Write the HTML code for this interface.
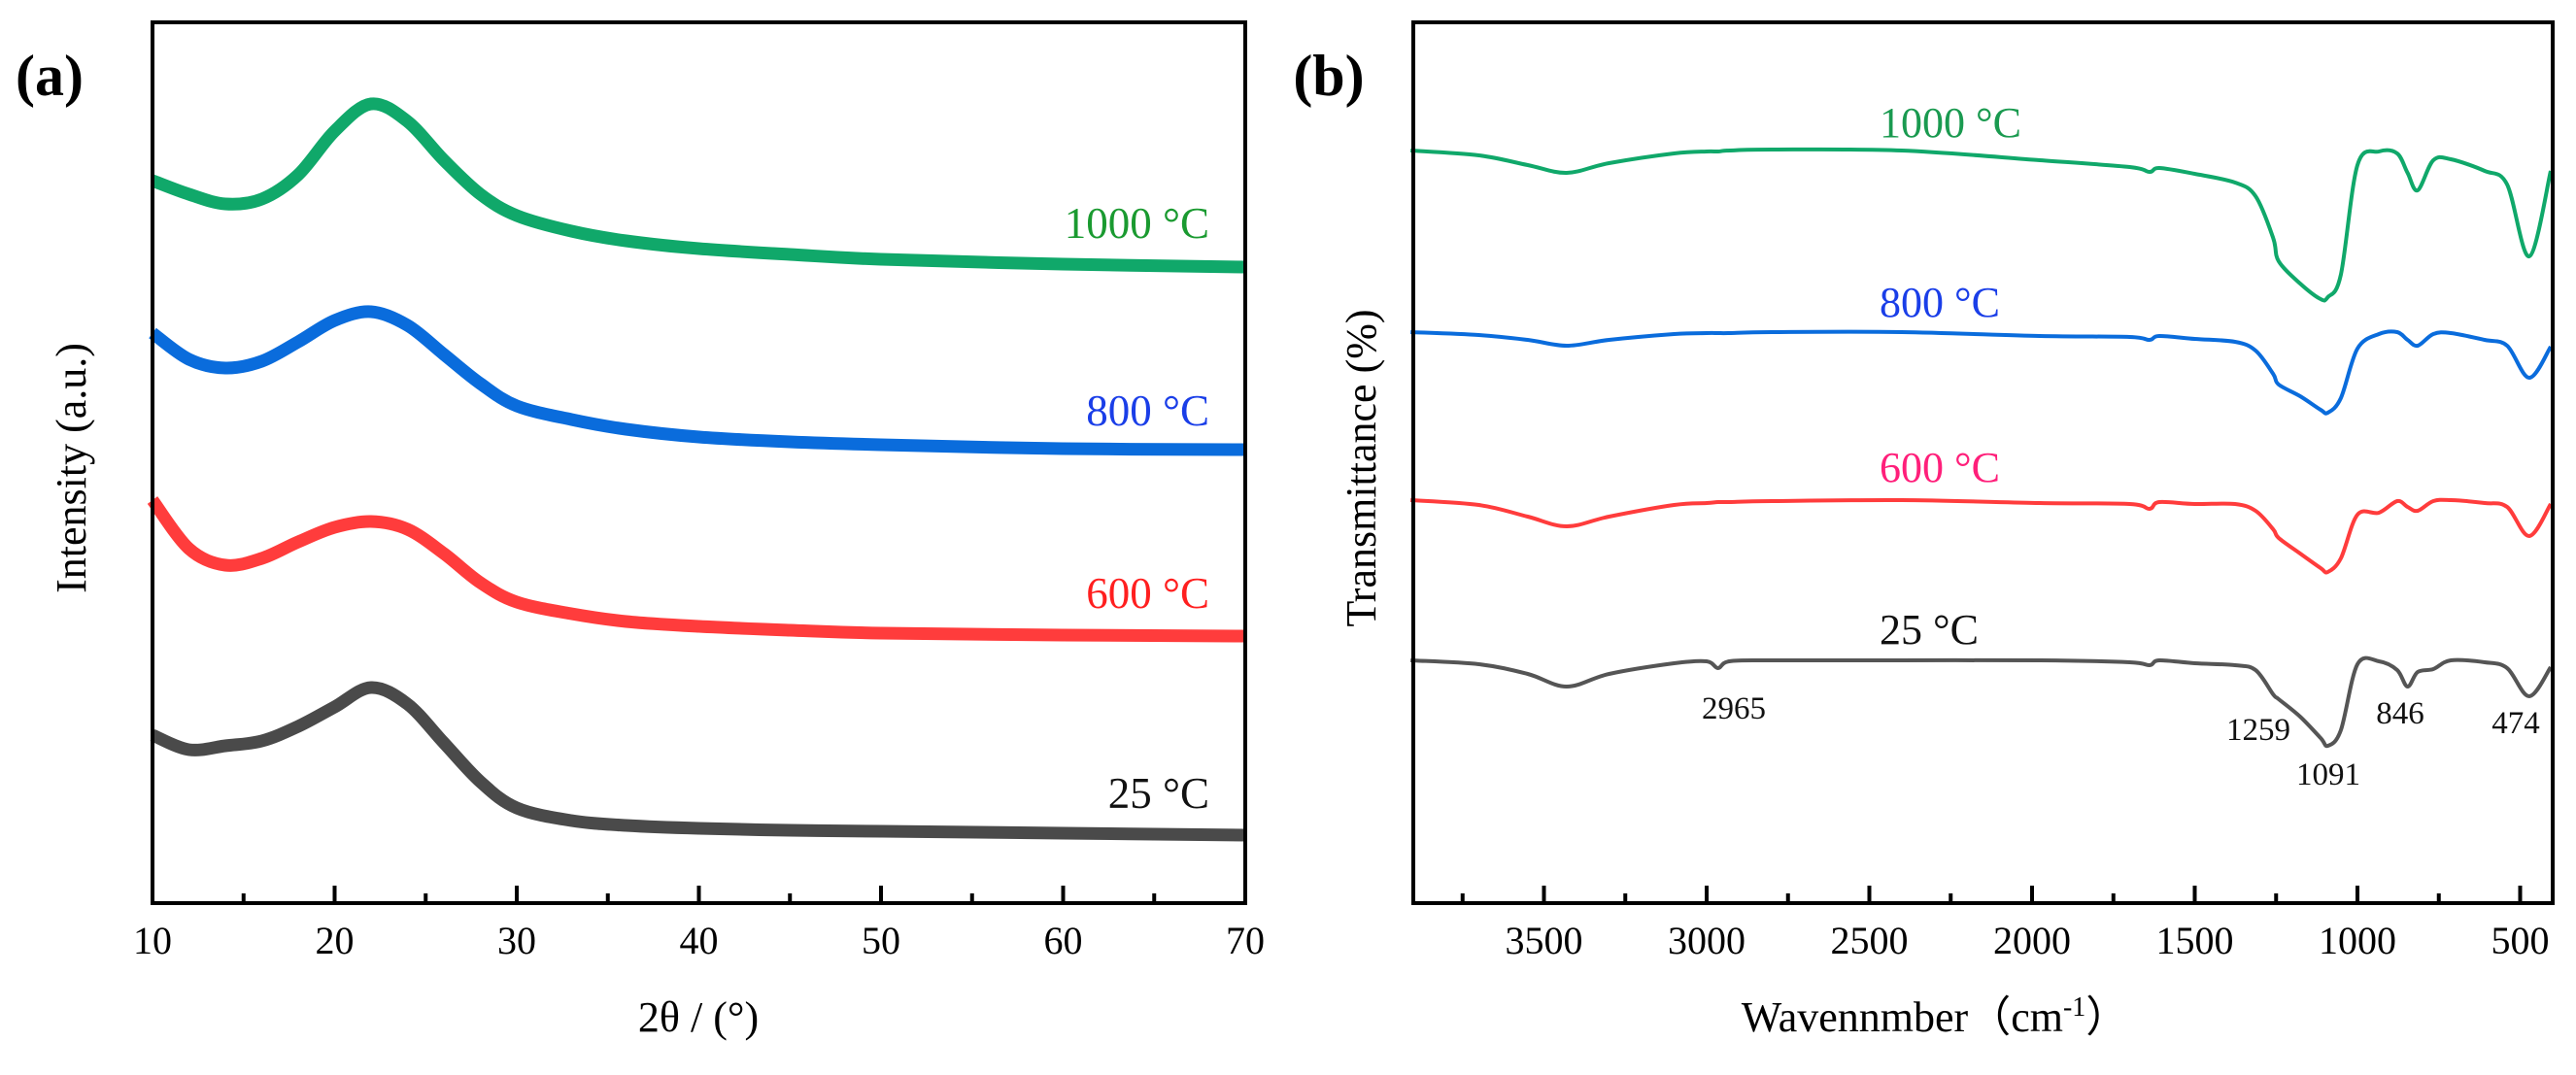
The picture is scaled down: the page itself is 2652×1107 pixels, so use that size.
<!DOCTYPE html>
<html><head><meta charset="utf-8">
<style>
html,body{margin:0;padding:0;background:#fff;}
svg{display:block;font-family:"Liberation Serif",serif;}
</style></head>
<body>
<svg id="fig" width="2652" height="1107" viewBox="0 0 2652 1107" xmlns="http://www.w3.org/2000/svg">
<g id="pa"></g>
<g id="pb"></g>
</svg>
<script>
// ---- Panel (a) XRD data ----
const thetaGrid = [10,12,14,16,18,20,22,24,26,28,30,33,36,40,45,50,60,70];
const xrd1000 = [744,730,720,725,750,795,823,805,765,730,708,692,682,674,668,663,658,655];
const xrd800 = [587,560,551,558,578,600,609,595,565,535,512,498,488,480,475,472,468,467];
const xrd600 = [415,365,348,355,372,387,393,385,360,330,310,298,290,285,281,278,276,275];
const xrd25 = [173,158,162,167,182,202,222,205,165,125,98,85,80,77,75,74,72,70];
const xrdTicks = [10,20,30,40,50,60,70];
const xrdLabels = ["1000 °C","800 °C","600 °C","25 °C"];

// ---- Panel (b) FTIR data ----
const wnGrid = [3910,3700,3550,3430,3300,3100,3000,2965,2930,2800,2400,1976,1700,1639,1609,1500,1376,1313,1259,1242,1176,1113,1091,1051,1000,934,878,846,815,767,713,609,540,472,406];
const ftir1000 = [775,770,760,752,762,772,774,774,775,776,775,765,758,753,757,751,742,728,685,661,638,622,624,647,760,774,772,752,734,765,766,754,740,666,754];
const ftir800 = [588,585,580,574,580,586,587,587,587,588,588,584,583,580,584,581,578,569,545,534,522,508,505,520,571,586,588,580,574,586,587,580,574,541,573];
const ftir600 = [415,410,398,388,398,410,412,413,413,414,415,412,411,406,413,411,411,404,385,376,360,345,341,355,400,402,414,408,404,414,415,412,408,378,411];
const ftir25 = [250,246,236,223,236,247,249,242,249,250,250,250,248,245,250,247,245,240,215,210,192,170,162,178,246,249,240,223,238,241,250,248,242,213,243];
const ftirTicks = [3500,3000,2500,2000,1500,1000,500];
const peakLabels = ["2965","1259","1091","846","474"];

const NS = "http://www.w3.org/2000/svg";
function mk(parent, tag, attrs, text){
  const e = document.createElementNS(NS, tag);
  for (const k in attrs) e.setAttribute(k, attrs[k]);
  if (text !== undefined) e.textContent = text;
  parent.appendChild(e);
  return e;
}
function smoothPath(pts){
  let d = "M" + pts[0][0].toFixed(1) + "," + pts[0][1].toFixed(1);
  for (let i = 0; i < pts.length - 1; i++){
    const p0 = pts[Math.max(0,i-1)], p1 = pts[i], p2 = pts[i+1], p3 = pts[Math.min(pts.length-1,i+2)];
    const c1x = p1[0] + (p2[0]-p0[0])/6, c1y = p1[1] + (p2[1]-p0[1])/6;
    const c2x = p2[0] - (p3[0]-p1[0])/6, c2y = p2[1] - (p3[1]-p1[1])/6;
    d += " C" + c1x.toFixed(1) + "," + c1y.toFixed(1) + " " + c2x.toFixed(1) + "," + c2y.toFixed(1) + " " + p2[0].toFixed(1) + "," + p2[1].toFixed(1);
  }
  return d;
}
const TOP = 23, BOT = 930;
const yA = v => BOT - v;
const AL = 157, AR = 1282;
const xA = t => AL + (t - 10) / 60 * (AR - AL);
const BL = 1455, BR = 2628;
const xB = w => 2427 + (1000 - w) * 0.335;

const pa = document.getElementById('pa');
const pb = document.getElementById('pb');

// ---- draw panel a ----
const aSeries = [[xrd1000,"#10a86a"],[xrd800,"#0a6cdc"],[xrd600,"#ff3c3c"],[xrd25,"#4a4a4a"]];
const aNames = ['xrd-1000c-line','xrd-800c-line','xrd-600c-line','xrd-25c-line'];
aSeries.forEach((s, i) => {
  const pts = thetaGrid.map((t, j) => [xA(t), yA(s[0][j])]);
  const p = mk(pa, 'path', {d: smoothPath(pts), fill:'none', stroke:s[1], 'stroke-width':13, 'stroke-linejoin':'round'});
  
  
});
const aLabColors = ["#1a9a30","#1a3ee8","#ff1f1f","#111"];
const aLabY = [245, 438, 626, 832];
xrdLabels.forEach((l, i) => {
  const t = mk(pa, 'text', {x:1245, y:aLabY[i], 'text-anchor':'end', 'font-size':45, fill:aLabColors[i]}, l);
  
  
});
mk(pa, 'rect', {x:AL, y:TOP, width:AR-AL, height:BOT-TOP, fill:'none', stroke:'#000', 'stroke-width':4,  });
for (let t = 10; t <= 70; t += 5){
  const major = t % 10 === 0;
  const tk = mk(pa, 'line', {x1:xA(t), x2:xA(t), y1:BOT, y2:BOT-(major?18:10), stroke:'#000', 'stroke-width':4});
  
  
}
xrdTicks.forEach(t => {
  const e = mk(pa, 'text', {x:xA(t), y:982, 'text-anchor':'middle', 'font-size':40, fill:'#000'}, String(t));
  
  
});
mk(pa, 'text', {x:719, y:1062, 'text-anchor':'middle', 'font-size':44, fill:'#000',  }, "2θ / (°)");
mk(pa, 'text', {x:0, y:0, transform:'translate(88,482) rotate(-90)', 'text-anchor':'middle', 'font-size':44, fill:'#000',  }, "Intensity (a.u.)");
mk(pa, 'text', {x:51, y:98, 'text-anchor':'middle', 'font-size':60, 'font-weight':'bold', fill:'#000',  }, "(a)");

// ---- draw panel b ----
const bSeries = [[ftir1000,"#10a86a"],[ftir800,"#0a6cdc"],[ftir600,"#ff3c3c"],[ftir25,"#555"]];
const bNames = ['ftir-1000c-line','ftir-800c-line','ftir-600c-line','ftir-25c-line'];
bSeries.forEach((s, i) => {
  const pts = wnGrid.map((w, j) => [xB(w), yA(s[0][j])]);
  const p = mk(pb, 'path', {d: smoothPath(pts), fill:'none', stroke:s[1], 'stroke-width':4, 'stroke-linejoin':'round'});
  
  
});
const bLabColors = ["#1a9a50","#1a3ee8","#ff1f7a","#111"];
const bLabY = [141, 326, 496, 663];
xrdLabels.forEach((l, i) => {
  const t = mk(pb, 'text', {x:1935, y:bLabY[i], 'text-anchor':'start', 'font-size':44, fill:bLabColors[i]}, l);
  
  
});
const peakX = [1785, 2325, 2397, 2471, 2590];
const peakY = [740, 762, 808, 745, 755];
peakLabels.forEach((l, i) => {
  const t = mk(pb, 'text', {x:peakX[i], y:peakY[i], 'text-anchor':'middle', 'font-size':33, fill:'#111'}, l);
  
  
});
mk(pb, 'rect', {x:BL, y:TOP, width:BR-BL, height:BOT-TOP, fill:'none', stroke:'#000', 'stroke-width':4,  });
for (let w = 3750; w >= 500; w -= 250){
  const major = w % 500 === 0;
  const tk = mk(pb, 'line', {x1:xB(w), x2:xB(w), y1:BOT, y2:BOT-(major?18:10), stroke:'#000', 'stroke-width':4});
  
  
}
ftirTicks.forEach(w => {
  const e = mk(pb, 'text', {x:xB(w), y:982, 'text-anchor':'middle', 'font-size':40, fill:'#000'}, String(w));
  
  
});
const xt = mk(pb, 'text', {x:1992, y:1062, 'text-anchor':'middle', 'font-size':44, fill:'#000',  });
xt.innerHTML = 'Wavennmber（cm<tspan dy="-16" font-size="28">-1</tspan><tspan dy="16">）</tspan>';
mk(pb, 'text', {x:0, y:0, transform:'translate(1416,482) rotate(-90)', 'text-anchor':'middle', 'font-size':44, fill:'#000',  }, "Transmittance (%)");
mk(pb, 'text', {x:1368, y:98, 'text-anchor':'middle', 'font-size':60, 'font-weight':'bold', fill:'#000',  }, "(b)");
</script>
</body></html>
